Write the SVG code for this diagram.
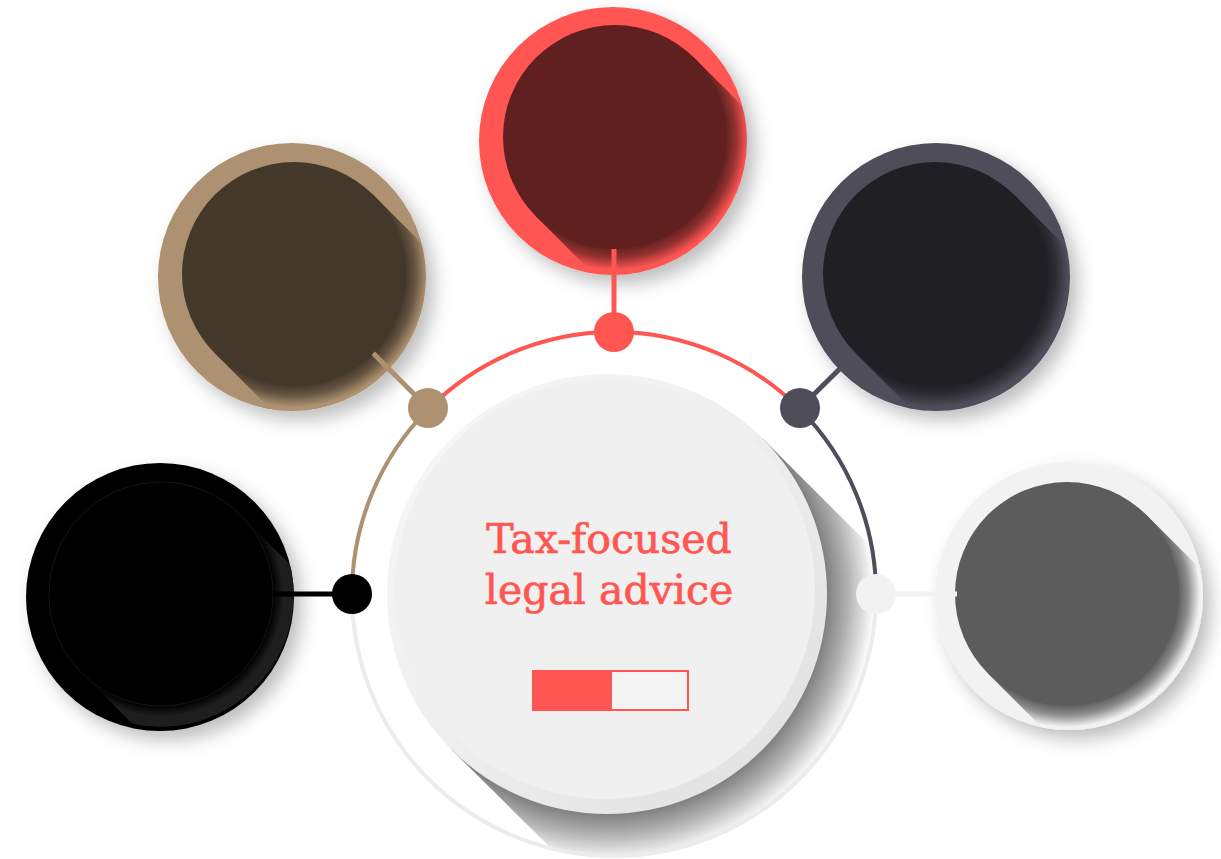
<svg xmlns="http://www.w3.org/2000/svg" width="1221" height="859" viewBox="0 0 1221 859">
  <defs>
    <filter id="drop" x="-30%" y="-30%" width="170%" height="170%">
      <feDropShadow dx="8" dy="9" stdDeviation="9" flood-color="#000" flood-opacity="0.26"/>
    </filter>
    <radialGradient id="longShade" cx="0" cy="0" r="133" gradientUnits="userSpaceOnUse">
      <stop offset="0.84" stop-color="#000" stop-opacity="0.6"/>
      <stop offset="0.91" stop-color="#000" stop-opacity="0.42"/>
      <stop offset="1" stop-color="#000" stop-opacity="0"/>
    </radialGradient>
    <radialGradient id="longShadeBlack" cx="0" cy="0" r="133" gradientUnits="userSpaceOnUse">
      <stop offset="0.84" stop-color="#000" stop-opacity="1"/>
      <stop offset="0.92" stop-color="#1E1E1E" stop-opacity="1"/>
      <stop offset="0.995" stop-color="#1E1E1E" stop-opacity="1"/>
      <stop offset="1" stop-color="#1E1E1E" stop-opacity="0"/>
    </radialGradient>
    <radialGradient id="centerShade" cx="607" cy="594" r="268" gradientUnits="userSpaceOnUse">
      <stop offset="0.82" stop-color="#000" stop-opacity="0.5"/>
      <stop offset="0.9" stop-color="#000" stop-opacity="0.3"/>
      <stop offset="1" stop-color="#000" stop-opacity="0"/>
    </radialGradient>
    <linearGradient id="rimGrad" x1="0" y1="0" x2="1" y2="1">
      <stop offset="0" stop-color="#F8F8F8"/>
      <stop offset="0.5" stop-color="#EEEEEE"/>
      <stop offset="1" stop-color="#DEDEDE"/>
    </linearGradient>
    <clipPath id="bigClip">
      <circle cx="614" cy="594" r="261"/>
    </clipPath>
    <clipPath id="blackClip">
      <circle cx="-1" cy="3" r="134"/>
    </clipPath>
    <path id="shadePath" d="M79.2 -79.2 L279.2 120.8 L120.8 279.2 L-79.2 79.2 Z"/>
  </defs>
  <style>
    .ring { fill: none; stroke-width: 4; }
    .link { stroke-width: 5; fill: none; }
    .label { font-family: "DejaVu Serif", "Liberation Serif", serif; font-size: 41px; fill: #FF5652; stroke: #FF5652; stroke-width: 0.7; text-anchor: middle; }
  </style>

  <rect width="1221" height="859" fill="#FFFFFF"/>

  <g id="base">
    <circle cx="614" cy="594" r="262" fill="#FFFFFF"/>
    <path d="M762.6 438.4 L1000 675.8 L690 985.8 L451.4 749.6 Z" fill="url(#centerShade)" clip-path="url(#bigClip)"/>
    <circle cx="614" cy="594" r="262" class="ring" stroke="#ECECEC"/>
  </g>

  <g id="center">
    <circle cx="607" cy="594" r="220" fill="url(#rimGrad)"/>
    <circle cx="605" cy="589" r="210" fill="#F0F0F0"/>
    <text class="label" x="609" y="553">Tax-focused</text>
    <text class="label" x="609" y="604">legal advice</text>
    <rect x="533" y="671" width="155" height="39" fill="#F4F4F4" stroke="#FF5652" stroke-width="2"/>
    <rect x="532" y="670" width="80" height="41" fill="#FF5652"/>
  </g>

  <g id="node-top" transform="translate(615,137)">
    <circle cx="-2" cy="4" r="134" fill="#FF5652" filter="url(#drop)"/>
    <use href="#shadePath" fill="url(#longShade)"/>
    <circle cx="0" cy="0" r="112" fill="#612020"/>
  </g>

  <g id="node-upper-left" transform="translate(294,274)">
    <circle cx="-2" cy="3" r="134" fill="#AD9170" filter="url(#drop)"/>
    <use href="#shadePath" fill="url(#longShade)"/>
    <circle cx="0" cy="0" r="112" fill="#433829"/>
  </g>

  <g id="node-upper-right" transform="translate(935,274)">
    <circle cx="1" cy="3" r="134" fill="#4F4D5A" filter="url(#drop)"/>
    <use href="#shadePath" fill="url(#longShade)"/>
    <circle cx="0" cy="0" r="112" fill="#202024"/>
  </g>

  <g id="node-left" transform="translate(161,594)">
    <circle cx="-1" cy="3" r="134" fill="#000000" filter="url(#drop)"/>
    <use href="#shadePath" fill="url(#longShadeBlack)" clip-path="url(#blackClip)"/>
    <circle cx="0" cy="0" r="112" fill="#000000" stroke="#151515" stroke-width="1"/>
  </g>

  <g id="node-right" transform="translate(1067,594)">
    <circle cx="2" cy="2" r="134" fill="#F2F2F2" filter="url(#drop)"/>
    <use href="#shadePath" fill="url(#longShade)"/>
    <circle cx="0" cy="0" r="112" fill="#5C5C5C"/>
  </g>

  <g id="connectors">
    <path class="ring" stroke="#AD9170" d="M352 594 A262 262 0 0 1 428.7 408.7"/>
    <path class="ring" stroke="#FF5652" d="M428.7 408.7 A262 262 0 0 1 799.3 408.7"/>
    <path class="ring" stroke="#4F4D5A" d="M799.3 408.7 A262 262 0 0 1 876 594"/>
    <line class="link" stroke="#FF5652" x1="614" y1="249" x2="614" y2="332" stroke-width="4"/>
    <line class="link" stroke="#AD9170" x1="373.2" y1="353.2" x2="428.7" y2="408.7"/>
    <line class="link" stroke="#4F4D5A" x1="855.5" y1="353.2" x2="799.3" y2="408.7"/>
    <line class="link" stroke="#000000" x1="273" y1="594" x2="352" y2="594" stroke-width="4"/>
    <line class="link" stroke="#F2F2F2" x1="876" y1="594" x2="957" y2="594"/>
    <circle cx="614" cy="332" r="20" fill="#FF5652"/>
    <circle cx="428" cy="408" r="20" fill="#AD9170"/>
    <circle cx="800" cy="408" r="20" fill="#4F4D5A"/>
    <circle cx="352" cy="594" r="20" fill="#000000"/>
    <circle cx="876" cy="594" r="20" fill="#F2F2F2"/>
  </g>
</svg>
